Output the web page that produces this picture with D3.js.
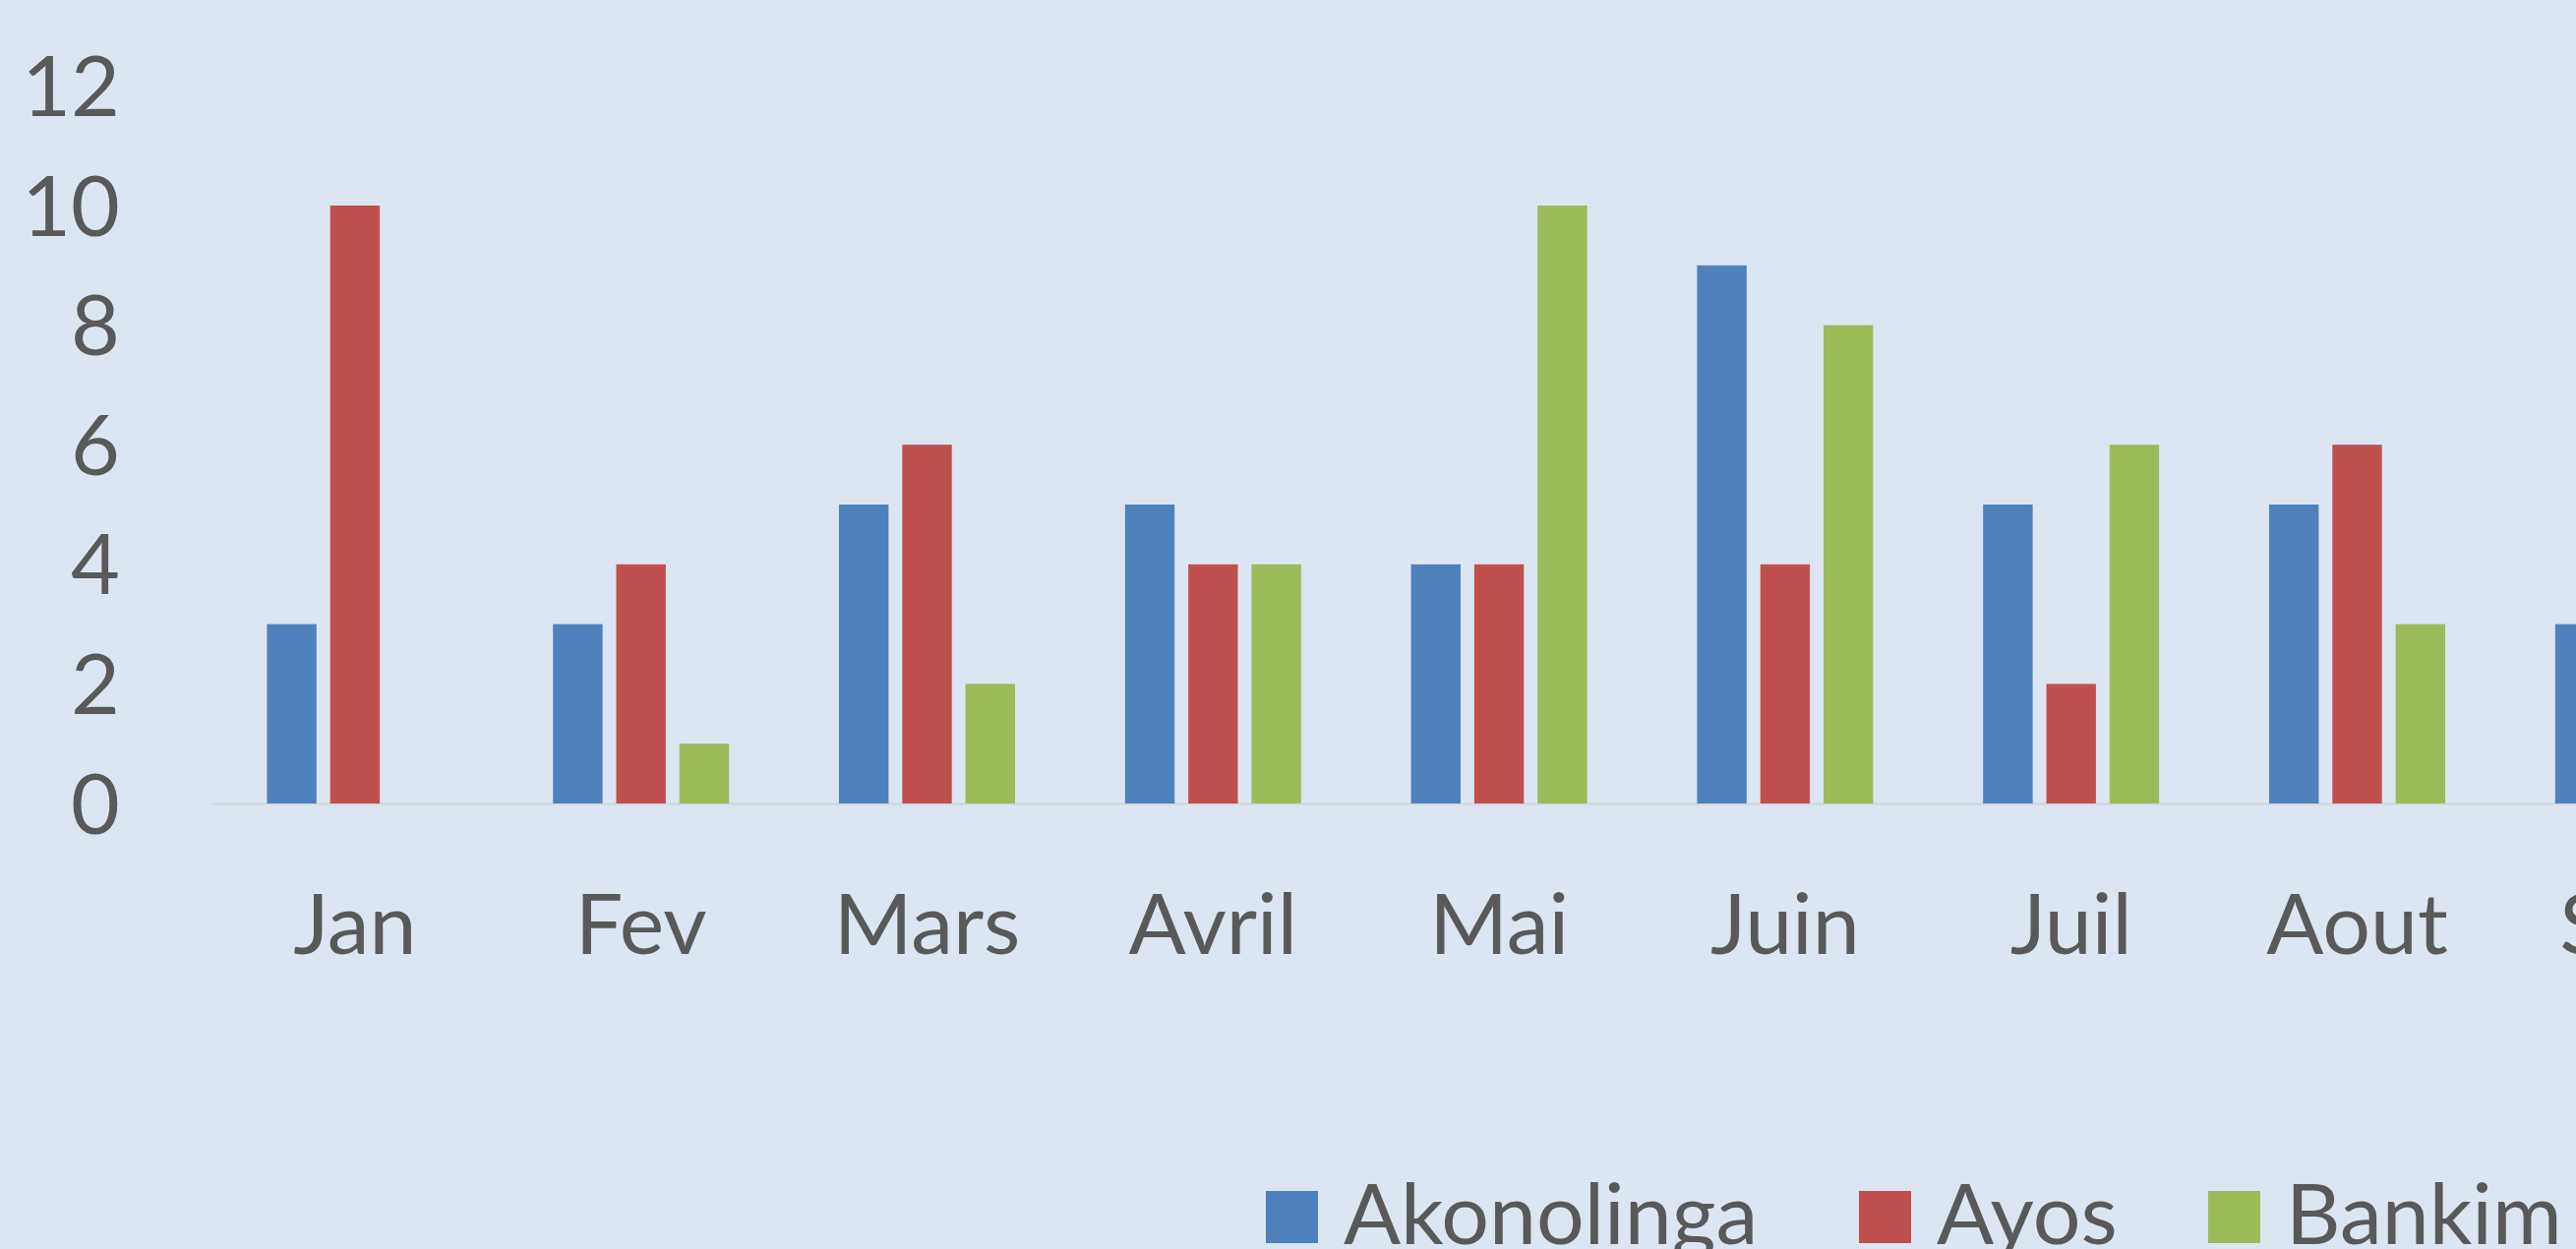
<!DOCTYPE html>
<html>
<head>
<meta charset="utf-8">
<script src="https://cdn.jsdelivr.net/npm/d3@7"></script>
<style>
  html, body { margin: 0; padding: 0; background: #DCE6F2; overflow: hidden; }
  svg { display: block; }
</style>
</head>
<body>
<svg id="chart" width="2619" height="1270"></svg>
<script>
const months = ["Jan", "Fev", "Mars", "Avril", "Mai", "Juin", "Juil", "Aout", "Sept"];
const seriesNames = ["Akonolinga", "Ayos", "Bankim"];
const akonolinga = [3, 3, 5, 5, 4, 9, 5, 5, 3];
const ayos       = [10, 4, 6, 4, 4, 4, 2, 6, null];
const bankim     = [0, 1, 2, 4, 10, 8, 6, 3, null];
const yTicks = [0, 2, 4, 6, 8, 10, 12];
const colors = ["#4F81BD", "#C0504D", "#9BBB59"];

const seriesValues = [akonolinga, ayos, bankim];
const rows = [];
months.forEach((m, i) => {
  seriesNames.forEach((s, j) => {
    const v = seriesValues[j][i];
    if (v !== null && v !== undefined) rows.push({ month: m, series: s, value: v });
  });
});

const svg = d3.select("#chart");
const textColor = "#595959";
const font = "Lato, 'Open Sans', sans-serif";

const bandStart = 215.5, bandStep = 290.8;
const x0 = d3.scaleBand().domain(months)
  .range([bandStart, bandStart + bandStep * months.length]).padding(0);
const x1 = d3.scaleBand().domain(seriesNames)
  .range([55.9, 234.9]).paddingInner(0.216).paddingOuter(0);
const y = d3.scaleLinear().domain([0, 12]).range([817, 87.4]);

// axis baseline
svg.append("line")
  .attr("x1", bandStart).attr("x2", 2619)
  .attr("y1", y(0) + 0.5).attr("y2", y(0) + 0.5)
  .attr("stroke", "#D0D4D9").attr("stroke-width", 2);

// bars
svg.append("g").selectAll("rect").data(rows).join("rect")
  .attr("x", d => x0(d.month) + x1(d.series))
  .attr("width", x1.bandwidth())
  .attr("y", d => y(d.value))
  .attr("height", d => y(0) - y(d.value))
  .attr("fill", d => colors[seriesNames.indexOf(d.series)]);

// y axis labels
const yAxis = d3.axisLeft(y).tickValues(yTicks).tickSize(0).tickPadding(0);
const gy = svg.append("g").attr("transform", "translate(122,0)").call(yAxis);
gy.select(".domain").remove();
gy.selectAll("text")
  .attr("fill", textColor).attr("font-family", font).attr("font-size", 86)
  .attr("dy", "0.35em").attr("x", 0);

// x axis labels
const xAxis = d3.axisBottom(x0).tickSize(0).tickPadding(0);
const gx = svg.append("g").attr("transform", "translate(0,970)").call(xAxis);
gx.select(".domain").remove();
gx.selectAll("text")
  .attr("fill", textColor).attr("font-family", font).attr("font-size", 86)
  .attr("dy", "0").attr("y", 0);

// legend
const legendX = [1287, 1890, 2245];
const lg = svg.append("g");
seriesNames.forEach((s, j) => {
  lg.append("rect")
    .attr("x", legendX[j]).attr("y", 1211)
    .attr("width", 53).attr("height", 53)
    .attr("fill", colors[j]);
  lg.append("text")
    .attr("x", legendX[j] + 79).attr("y", 1265)
    .attr("fill", textColor).attr("font-family", font).attr("font-size", 86)
    .text(s);
});
</script>
</body>
</html>
